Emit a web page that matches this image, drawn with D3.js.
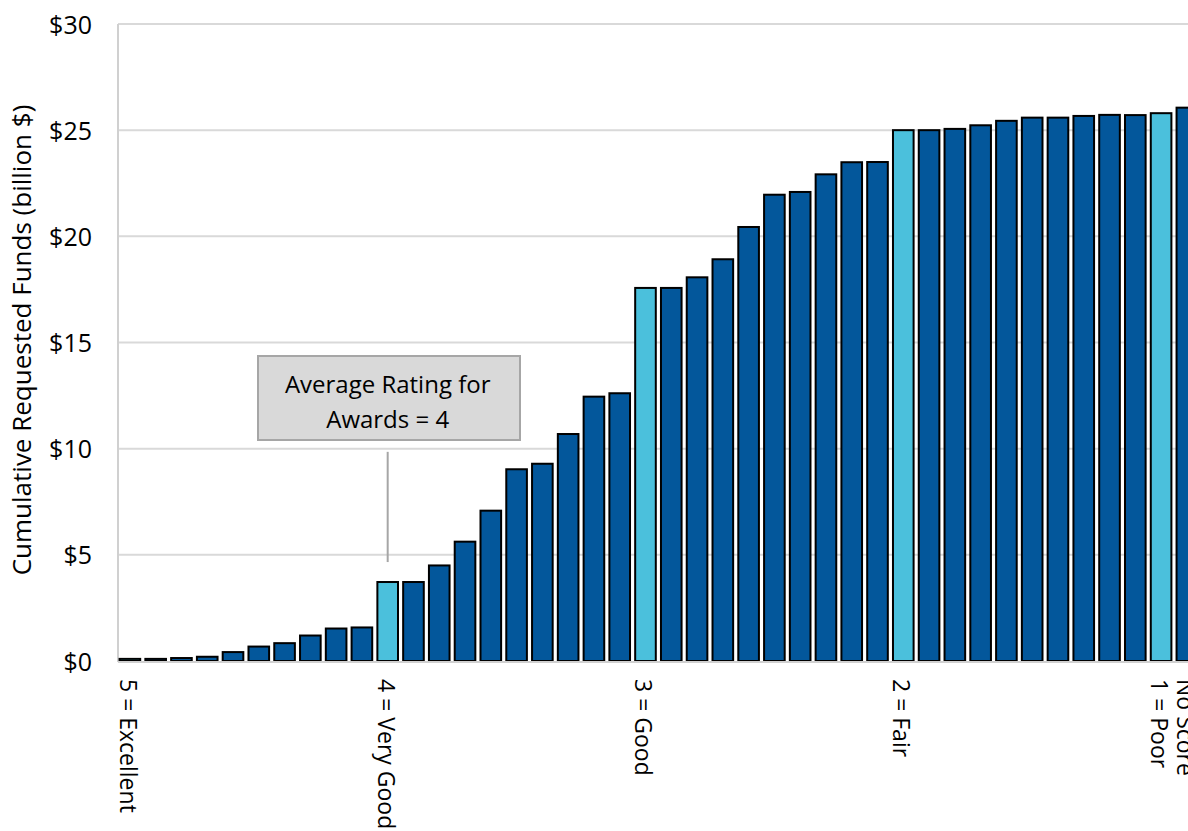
<!DOCTYPE html>
<html>
<head>
<meta charset="utf-8">
<script src="https://cdn.jsdelivr.net/npm/d3@7"></script>
<style>
  html, body { margin: 0; padding: 0; background: #ffffff; overflow: hidden; }
  svg { display: block; font-family: "Open Sans", sans-serif; }
</style>
</head>
<body>
<svg id="chart" width="1188" height="831"></svg>
<script>
// Cumulative requested funds (billion $), proposals sorted by rating
const values = [
  0.10, 0.10, 0.14, 0.20, 0.42, 0.68, 0.84, 1.20, 1.53, 1.58,
  3.72, 3.72, 4.50, 5.62, 7.08, 9.03, 9.29, 10.69, 12.45, 12.61,
  17.57, 17.57, 18.07, 18.92, 20.44, 21.96, 22.09, 22.92, 23.49, 23.50,
  25.00, 25.00, 25.06, 25.23, 25.44, 25.59, 25.59, 25.67, 25.72, 25.71,
  25.80, 26.06
];
// Rating label shown under selected bars
const ratingLabels = {
  0: "5 = Excellent",
  10: "4 = Very Good",
  20: "3 = Good",
  30: "2 = Fair",
  40: "1 = Poor",
  41: "No Score"
};
// Bars that mark the first proposal of each rating level
const highlighted = [0, 10, 20, 30, 40];
const yTicks = [0, 5, 10, 15, 20, 25, 30];
const yTitle = "Cumulative Requested Funds (billion $)";
const noteLines = ["Average Rating for", "Awards = 4"];
const noteBar = 10;
const noteSpan = [4.66, 9.85];

const svg = d3.select("#chart");
const plotLeft = 118, plotTop = 24, plotBottom = 661;
const step = 25.78;

const x = d3.scaleBand()
  .domain(d3.range(values.length))
  .range([117, 117 + step * values.length])
  .paddingInner(0.2)
  .paddingOuter(0.1);

const y = d3.scaleLinear().domain([0, 30]).range([plotBottom, plotTop]);

// Horizontal gridlines
svg.append("g")
  .selectAll("line")
  .data(yTicks.filter(d => d > 0))
  .join("line")
  .attr("x1", plotLeft).attr("x2", 1188)
  .attr("y1", d => y(d)).attr("y2", d => y(d))
  .attr("stroke", "#d9d9d9").attr("stroke-width", 2);

// Y axis tick labels
const yAxis = d3.axisLeft(y).tickValues(yTicks).tickSize(0).tickPadding(0)
  .tickFormat(d => "$" + d);
const ya = svg.append("g").attr("transform", `translate(92,0)`).call(yAxis);
ya.select(".domain").remove();
ya.selectAll("text")
  .attr("font-family", "Open Sans, sans-serif")
  .attr("font-size", 25)
  .attr("fill", "#000")
  .attr("dy", "0.36em");

// Y axis line
svg.append("line")
  .attr("x1", plotLeft).attr("x2", plotLeft)
  .attr("y1", plotTop).attr("y2", plotBottom + 1)
  .attr("stroke", "#d0d0d0").attr("stroke-width", 2);

// Bars
svg.append("g")
  .selectAll("rect")
  .data(values)
  .join("rect")
  .attr("x", (d, i) => x(i))
  .attr("width", x.bandwidth())
  .attr("y", d => y(d))
  .attr("height", d => y(0) - y(d))
  .attr("fill", (d, i) => highlighted.includes(i) ? "#4bc0dc" : "#03579b")
  .attr("stroke", "#000")
  .attr("stroke-width", 2);

// Baseline
svg.append("line")
  .attr("x1", plotLeft).attr("x2", 1188)
  .attr("y1", plotBottom + 1).attr("y2", plotBottom + 1)
  .attr("stroke", "#d0d0d0").attr("stroke-width", 2);

// Rotated category labels
svg.append("g")
  .selectAll("text")
  .data(Object.entries(ratingLabels))
  .join("text")
  .attr("transform", ([i]) => `translate(${x(+i) + x.bandwidth() / 2 - 2},679) rotate(90)`)
  .attr("dy", "0.35em")
  .attr("font-size", 23)
  .attr("fill", "#000")
  .text(([, t]) => t);

// Y axis title
svg.append("text")
  .attr("transform", `translate(22,340) rotate(-90)`)
  .attr("text-anchor", "middle")
  .attr("dy", "0.35em")
  .attr("font-size", 26)
  .attr("fill", "#000")
  .text(yTitle);

// Annotation callout
const nx = x(noteBar) + x.bandwidth() / 2;
svg.append("line")
  .attr("x1", nx).attr("x2", nx)
  .attr("y1", y(noteSpan[1])).attr("y2", y(noteSpan[0]))
  .attr("stroke", "#a6a6a6").attr("stroke-width", 2);

svg.append("rect")
  .attr("x", 258).attr("y", 356)
  .attr("width", 262).attr("height", 84)
  .attr("fill", "#d9d9d9")
  .attr("stroke", "#a6a6a6").attr("stroke-width", 2);

svg.append("g")
  .selectAll("text")
  .data(noteLines)
  .join("text")
  .attr("x", nx)
  .attr("y", (d, i) => 385 + i * 35)
  .attr("dy", "0.35em")
  .attr("text-anchor", "middle")
  .attr("font-size", 24)
  .attr("fill", "#000")
  .text(d => d);
</script>
</body>
</html>
